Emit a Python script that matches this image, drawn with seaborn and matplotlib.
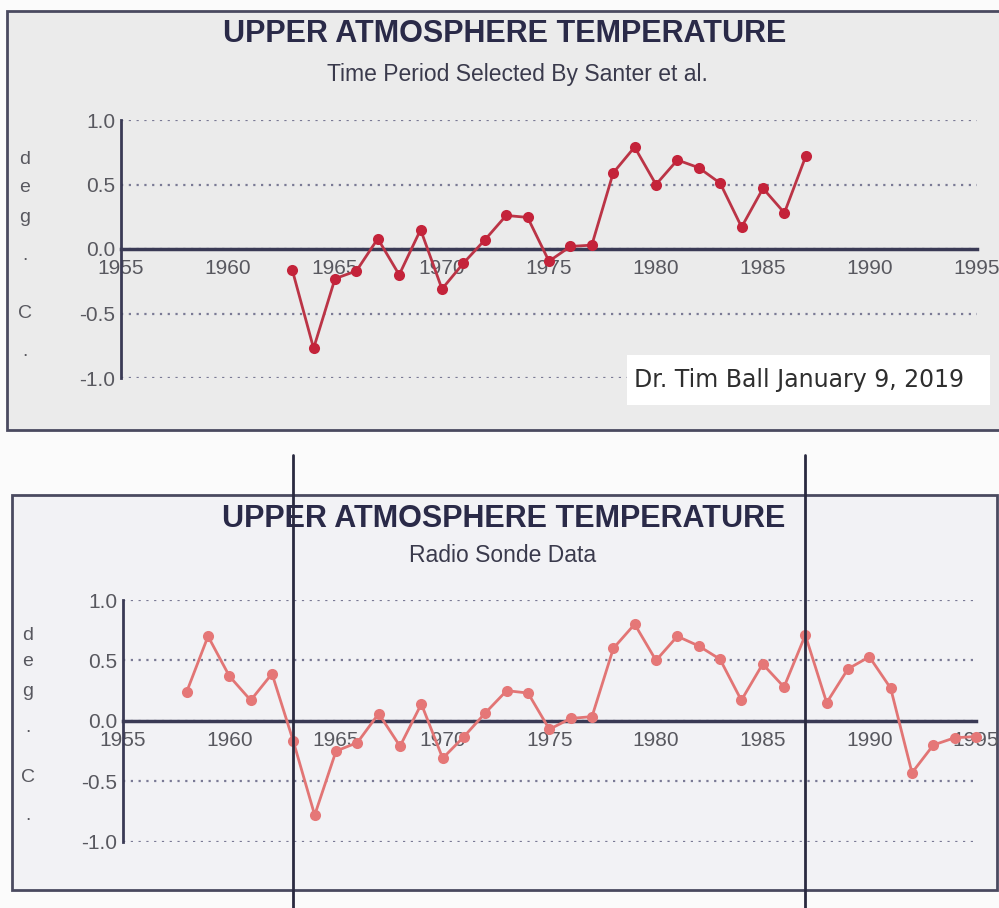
import matplotlib
matplotlib.use("Agg")
import matplotlib.pyplot as plt
from matplotlib.patches import Rectangle
from matplotlib.ticker import MultipleLocator
import seaborn as sns
import pandas as pd

# ---------------- data ----------------
santer_years = list(range(1963, 1988))
santer_values = [-0.16, -0.77, -0.23, -0.17, 0.08, -0.20, 0.15, -0.31, -0.11, 0.07,
                 0.26, 0.245, -0.095, 0.02, 0.03, 0.59, 0.79, 0.50, 0.69, 0.63,
                 0.51, 0.17, 0.47, 0.28, 0.72]

sonde_years = list(range(1958, 1996))
sonde_values = [0.24, 0.70, 0.37, 0.17, 0.39, -0.17, -0.78, -0.25, -0.18, 0.06,
                -0.21, 0.14, -0.31, -0.13, 0.066, 0.25, 0.23, -0.07, 0.02, 0.035,
                0.60, 0.80, 0.50, 0.70, 0.62, 0.51, 0.17, 0.47, 0.28, 0.71,
                0.15, 0.43, 0.53, 0.27, -0.43, -0.20, -0.14, -0.13]

highlight_years = [1963, 1987]

main_title = "UPPER ATMOSPHERE TEMPERATURE"
top_subtitle = "Time Period Selected By Santer et al."
bottom_subtitle = "Radio Sonde Data"
credit = "Dr. Tim Ball January 9, 2019"
ylabel_chars = ["d", "e", "g", ".", "C", "."]
y_ticks = [-1.0, -0.5, 0.0, 0.5, 1.0]
x_min, x_max = 1955, 1995

df_top = pd.DataFrame({"year": santer_years, "temp": santer_values})
df_bot = pd.DataFrame({"year": sonde_years, "temp": sonde_values})

# ---------------- style ----------------
sns.set_style("white")
plt.rcParams["font.family"] = ["Liberation Sans", "DejaVu Sans"]

W, H = 999, 908
fig = plt.figure(figsize=(W / 100, H / 100), dpi=100)
fig.patch.set_facecolor("#fbfbfb")

def px_rect(x0, y0, x1, y1):
    return (x0 / W, 1 - y1 / H, (x1 - x0) / W, (y1 - y0) / H)

frame_col = "#4a4a60"
axis_col = "#3a3a55"
text_gray = "#58585f"
sans = ["Liberation Sans", "DejaVu Sans"]

# panel frames
x0, y0, w, h = px_rect(7, 11, 1010, 430)
fig.patches.append(Rectangle((x0, y0), w, h, transform=fig.transFigure,
                             facecolor="#ebebeb", edgecolor=frame_col, lw=2, zorder=-2))
x0, y0, w, h = px_rect(12, 495, 997, 890)
fig.patches.append(Rectangle((x0, y0), w, h, transform=fig.transFigure,
                             facecolor="#f2f2f5", edgecolor=frame_col, lw=2, zorder=-2))

ax1 = fig.add_axes(px_rect(121, 120, 977, 378))
ax2 = fig.add_axes(px_rect(122.7, 600, 976, 841.7))

def style_axes(ax):
    ax.set_facecolor("none")
    ax.set_xlim(x_min, x_max)
    ax.set_ylim(-1.0, 1.0)
    for s in ["top", "right"]:
        ax.spines[s].set_visible(False)
    ax.spines["left"].set_bounds(-1.0, 1.0)
    ax.spines["left"].set_color(axis_col)
    ax.spines["left"].set_linewidth(2)
    ax.spines["bottom"].set_position(("data", 0))
    ax.spines["bottom"].set_color(axis_col)
    ax.spines["bottom"].set_linewidth(2.5)
    ax.xaxis.set_major_locator(MultipleLocator(5))
    ax.xaxis.set_minor_locator(MultipleLocator(1))
    ax.set_yticks(y_ticks)
    ax.set_yticklabels([f"{v:.1f}" for v in y_ticks])
    ax.tick_params(axis="x", which="both", direction="inout", length=8, width=1.8,
                   color=axis_col, labelsize=15, labelcolor=text_gray, pad=3)
    ax.tick_params(axis="y", direction="inout", length=6, width=1.8,
                   color=axis_col, labelsize=15, labelcolor=text_gray, pad=1)
    ax.yaxis.grid(True, linestyle=(0, (1, 2.5)), color="#7a7a95", lw=1.6)
    ax.xaxis.grid(False)

style_axes(ax1)
style_axes(ax2)

sns.lineplot(data=df_top, x="year", y="temp", ax=ax1, color="#bb3446",
             marker="o", markersize=8, markeredgewidth=0, linewidth=2,
             markerfacecolor="#c4233a", clip_on=False, zorder=4)
sns.lineplot(data=df_bot, x="year", y="temp", ax=ax2, color="#e27575",
             marker="o", markersize=8, markeredgewidth=0, linewidth=2,
             markerfacecolor="#e57777", clip_on=False, zorder=4)
ax1.set_xlabel(""); ax1.set_ylabel("")
ax2.set_xlabel(""); ax2.set_ylabel("")

# titles
title_col = "#2a2a48"
sub_col = "#3a3a4c"
ax1.text(505 / W, 1 - 34 / H, main_title, transform=fig.transFigure, ha="center",
         va="center", fontsize=22, fontweight="bold", color=title_col, family=sans)
ax1.text(517 / W, 1 - 74 / H, top_subtitle, transform=fig.transFigure, ha="center",
         va="center", fontsize=16.5, color=sub_col, family=sans)
ax2.text(504 / W, 1 - 519 / H, main_title, transform=fig.transFigure, ha="center",
         va="center", fontsize=22, fontweight="bold", color=title_col, family=sans,
         zorder=3)
ax2.text(503 / W, 1 - 556 / H, bottom_subtitle, transform=fig.transFigure, ha="center",
         va="center", fontsize=16.5, color=sub_col, family=sans, zorder=3)

# vertical "deg . C ." labels
top_y = [160, 187, 218, 255, 313, 352]
bot_y = [635, 662, 692, 727, 778, 815]
for ch, yy in zip(ylabel_chars, top_y):
    fig.text(25 / W, 1 - yy / H, ch, ha="center", va="center", fontsize=14, color=text_gray)
for ch, yy in zip(ylabel_chars, bot_y):
    fig.text(28 / W, 1 - yy / H, ch, ha="center", va="center", fontsize=14, color=text_gray)

# credit box
x0, y0, w, h = px_rect(627, 355, 990, 405)
fig.patches.append(Rectangle((x0, y0), w, h, transform=fig.transFigure,
                             facecolor="white", edgecolor="none", zorder=5))
fig.text(634 / W, 1 - 380 / H, credit, ha="left", va="center", fontsize=17,
         color="#2e2e2e", family="DejaVu Sans", zorder=6)

# highlight vertical lines marking Santer period
for yr in highlight_years:
    ax2.axvline(yr, ymin=(841.7 - 908) / 241.7, ymax=(841.7 - 455) / 241.7,
                color="#2a2a40", lw=2, clip_on=False, zorder=6)

fig.savefig("out.png", dpi=100, facecolor=fig.get_facecolor())
